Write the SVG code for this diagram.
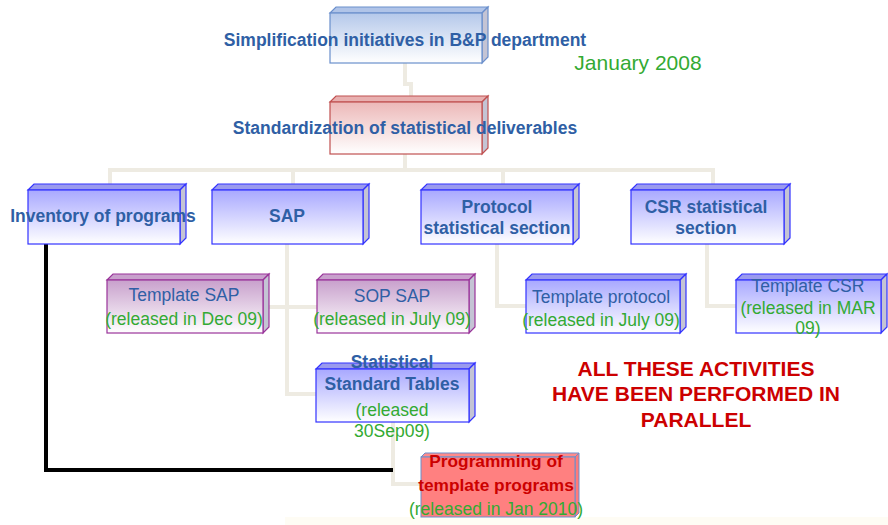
<svg xmlns="http://www.w3.org/2000/svg" width="888" height="525" viewBox="0 0 888 525">
<defs>
<linearGradient id="gBlueT" x1="0" y1="0" x2="0" y2="1"><stop offset="0" stop-color="#b4c8ea"/><stop offset="1" stop-color="#ffffff"/></linearGradient>
<linearGradient id="gRed" x1="0" y1="0" x2="0" y2="1"><stop offset="0" stop-color="#ecb8b8"/><stop offset="1" stop-color="#ffffff"/></linearGradient>
<linearGradient id="gBlue" x1="0" y1="0" x2="0" y2="1"><stop offset="0" stop-color="#a8a8ff"/><stop offset="1" stop-color="#ffffff"/></linearGradient>
<linearGradient id="gPurple" x1="0" y1="0" x2="0" y2="1"><stop offset="0" stop-color="#c8a0cc"/><stop offset="1" stop-color="#ffffff"/></linearGradient>
<style>
.conn{fill:none;stroke:#eeebe2;stroke-width:4}
.side{fill:#c4c4d4}
.sb .f,.sb .t,.sb .s{stroke:#3333ff;stroke-width:1.2}
.sb .f{fill:url(#gBlue)} .sb .t{fill:#9a9aee}
.sbt .f,.sbt .t,.sbt .s{stroke:#6a8fcc;stroke-width:1.2}
.sbt .f{fill:url(#gBlueT)} .sbt .t{fill:#b0c4e8}
.sr .f,.sr .t,.sr .s{stroke:#c05050;stroke-width:1.2}
.sr .f{fill:url(#gRed)} .sr .t{fill:#e8b0b0}
.sp .f,.sp .t,.sp .s{stroke:#993399;stroke-width:1.2}
.sp .f{fill:url(#gPurple)} .sp .t{fill:#c8a0cc}
.pr .f,.pr .t,.pr .s{stroke:#6a8fcc;stroke-width:1}
.pr .f{fill:#ff8080} .pr .t{fill:#ff8a8a} .pr .s{fill:#ff7a7a}
text{font-family:"Liberation Sans",Arial,sans-serif;text-anchor:middle}
.b{font-weight:bold;fill:#2f5fa5;font-size:17.5px}
.n{fill:#2f5fa5;font-size:17.5px}
.g{fill:#33aa33;font-size:17.5px}
.pb{fill:#cc0000;font-weight:bold;font-size:17.3px}
.red{fill:#cc0000;font-weight:bold;font-size:21px}
</style>
</defs>
<rect x="285" y="517" width="603" height="8" fill="#fefcf4"/>
<g id="connectors">
<polyline class="conn" points="405,63 405,84 411,84 411,96"/>
<polyline class="conn" points="405,154 405,170"/>
<polyline class="conn" points="110,184 110,170 713,170 713,184"/>
<polyline class="conn" points="293,170 293,184"/>
<polyline class="conn" points="503,170 503,184"/>
<polyline class="conn" points="287,244 287,394 318,394"/>
<polyline class="conn" points="263,307 317,307"/>
<polyline class="conn" points="497,244 497,306 526,306"/>
<polyline class="conn" points="707,244 707,306 736,306"/>
<polyline class="conn" points="393,422 393,484 421,484"/>
<polyline fill="none" stroke="#000" stroke-width="4" points="46,244 46,470 393,470"/>
</g>
<g id="n_top" class="sbt">
<polygon class="t" points="330,13 336,7 488,7 482,13"/>
<polygon class="s side" points="482,13 488,7 488,57 482,63"/>
<rect class="f" x="330" y="13" width="152" height="50"/>
<text class="b" x="405" y="46">Simplification initiatives in B&amp;P department</text>
</g>
<text x="638" y="70" style="fill:#33aa33;font-size:21px">January 2008</text>
<g id="n_std" class="sr">
<polygon class="t" points="330,102 336,96 488,96 482,102"/>
<polygon class="s side" points="482,102 488,96 488,148 482,154"/>
<rect class="f" x="330" y="102" width="152" height="52"/>
<text class="b" x="405" y="134">Standardization of statistical deliverables</text>
</g>
<g id="n_inv" class="sb">
<polygon class="t" points="28,190 34,184 186,184 180,190"/>
<polygon class="s side" points="180,190 186,184 186,238 180,244"/>
<rect class="f" x="28" y="190" width="152" height="54"/>
<text class="b" x="103" y="222">Inventory of programs</text>
</g>
<g id="n_sap" class="sb">
<polygon class="t" points="212,190 218,184 369,184 363,190"/>
<polygon class="s side" points="363,190 369,184 369,238 363,244"/>
<rect class="f" x="212" y="190" width="151" height="54"/>
<text class="b" x="287" y="222">SAP</text>
</g>
<g id="n_prot" class="sb">
<polygon class="t" points="421,190 427,184 579,184 573,190"/>
<polygon class="s side" points="573,190 579,184 579,238 573,244"/>
<rect class="f" x="421" y="190" width="152" height="54"/>
<text class="b" x="497" y="213">Protocol</text>
<text class="b" x="497" y="234">statistical section</text>
</g>
<g id="n_csr" class="sb">
<polygon class="t" points="631,190 637,184 790,184 784,190"/>
<polygon class="s side" points="784,190 790,184 790,238 784,244"/>
<rect class="f" x="631" y="190" width="153" height="54"/>
<text class="b" x="706" y="213">CSR statistical</text>
<text class="b" x="706" y="234">section</text>
</g>
<g id="n_tsap" class="sp">
<polygon class="t" points="107,280 113,274 269,274 263,280"/>
<polygon class="s side" points="263,280 269,274 269,327 263,333"/>
<rect class="f" x="107" y="280" width="156" height="53"/>
<text class="n" x="184" y="301">Template SAP</text>
<text class="g" x="184" y="325">(released in Dec 09)</text>
</g>
<g id="n_sop" class="sp">
<polygon class="t" points="317,280 323,274 475,274 469,280"/>
<polygon class="s side" points="469,280 475,274 475,327 469,333"/>
<rect class="f" x="317" y="280" width="152" height="53"/>
<text class="n" x="392" y="302">SOP SAP</text>
<text class="g" x="392" y="325">(released in July 09)</text>
</g>
<g id="n_tprot" class="sb">
<polygon class="t" points="526,280 532,274 686,274 680,280"/>
<polygon class="s side" points="680,280 686,274 686,327 680,333"/>
<rect class="f" x="526" y="280" width="154" height="53"/>
<text class="n" x="601" y="303">Template protocol</text>
<text class="g" x="601" y="326">(released in July 09)</text>
</g>
<g id="n_tcsr" class="sb">
<polygon class="t" points="736,280 742,274 887,274 881,280"/>
<polygon class="s side" points="881,280 887,274 887,327 881,333"/>
<rect class="f" x="736" y="280" width="145" height="53"/>
<text class="n" x="808" y="292">Template CSR</text>
<text class="g" x="808" y="314">(released in MAR</text>
<text class="g" x="808" y="334">09)</text>
</g>
<g id="n_sst" class="sb">
<polygon class="t" points="316,369 322,363 475,363 469,369"/>
<polygon class="s side" points="469,369 475,363 475,416 469,422"/>
<rect class="f" x="316" y="369" width="153" height="53"/>
<text class="b" x="392" y="368">Statistical</text>
<text class="b" x="392" y="390">Standard Tables</text>
<text class="g" x="392" y="416">(released</text>
<text class="g" x="392" y="437">30Sep09)</text>
</g>
<g id="n_prog" class="pr">
<polygon class="t" points="421,457 425,453 579,453 575,457"/>
<polygon class="s" points="575,457 579,453 579,513 575,517"/>
<rect class="f" x="421" y="457" width="154" height="60"/>
<text class="pb" x="496" y="467">Programming of</text>
<text class="pb" x="496" y="491">template programs</text>
<text class="g" x="496" y="515">(released in Jan 2010)</text>
</g>
<g id="note">
<text class="red" x="696" y="376">ALL THESE ACTIVITIES</text>
<text class="red" x="696" y="401">HAVE BEEN PERFORMED IN</text>
<text class="red" x="696" y="427">PARALLEL</text>
</g>
</svg>
